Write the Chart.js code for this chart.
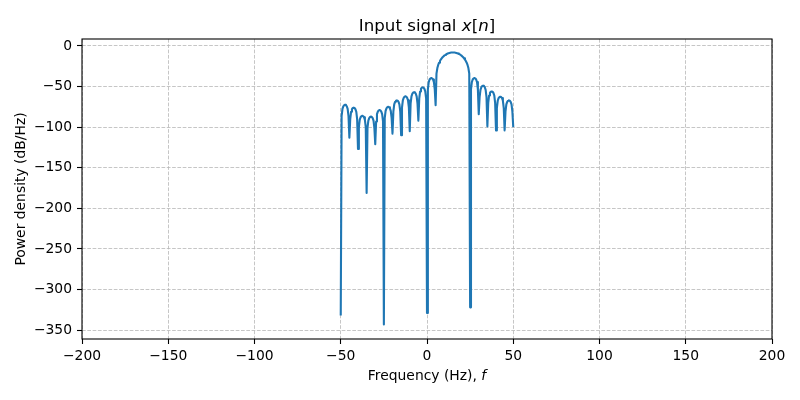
<!DOCTYPE html>
<html>
<head>
<meta charset="utf-8">
<script src="https://cdn.jsdelivr.net/npm/chart.js@4"></script>
<style>
  body { margin: 0; background: #fff; }
  canvas { display: block; }
</style>
</head>
<body>
<canvas id="psd" width="800" height="400"></canvas>
<script>
// frequency grid (Hz), one row per 5 Hz
const freq = [
  -50, -49.5, -49, -48.5, -48, -47.5, -47, -46.5, -46, -45.5,
  -45, -44.5, -44, -43.5, -43, -42.5, -42, -41.5, -41, -40.5,
  -40, -39.5, -39, -38.5, -38, -37.5, -37, -36.5, -36, -35.5,
  -35, -34.5, -34, -33.5, -33, -32.5, -32, -31.5, -31, -30.5,
  -30, -29.5, -29, -28.5, -28, -27.5, -27, -26.5, -26, -25.5,
  -25, -24.5, -24, -23.5, -23, -22.5, -22, -21.5, -21, -20.5,
  -20, -19.5, -19, -18.5, -18, -17.5, -17, -16.5, -16, -15.5,
  -15, -14.5, -14, -13.5, -13, -12.5, -12, -11.5, -11, -10.5,
  -10, -9.5, -9, -8.5, -8, -7.5, -7, -6.5, -6, -5.5,
  -5, -4.5, -4, -3.5, -3, -2.5, -2, -1.5, -1, -0.5,
  0, 0.5, 1, 1.5, 2, 2.5, 3, 3.5, 4, 4.5,
  5, 5.5, 6, 6.5, 7, 7.5, 8, 8.5, 9, 9.5,
  10, 10.5, 11, 11.5, 12, 12.5, 13, 13.5, 14, 14.5,
  15, 15.5, 16, 16.5, 17, 17.5, 18, 18.5, 19, 19.5,
  20, 20.5, 21, 21.5, 22, 22.5, 23, 23.5, 24, 24.5,
  25, 25.5, 26, 26.5, 27, 27.5, 28, 28.5, 29, 29.5,
  30, 30.5, 31, 31.5, 32, 32.5, 33, 33.5, 34, 34.5,
  35, 35.5, 36, 36.5, 37, 37.5, 38, 38.5, 39, 39.5,
  40, 40.5, 41, 41.5, 42, 42.5, 43, 43.5, 44, 44.5,
  45, 45.5, 46, 46.5, 47, 47.5, 48, 48.5, 49, 49.5,
  50
];

// power density (dB/Hz)
const psd = [
  -332, -86.5, -77.5, -74.3, -72.9, -72.5, -72.9, -74.3, -77.5, -86.5,
  -113, -90, -81, -77.8, -76.4, -76, -76.4, -77.8, -81, -90,
  -127, -100, -91, -87.8, -86.4, -86, -86.4, -87.8, -91, -100,
  -181, -101, -92, -88.8, -87.4, -87, -87.4, -88.8, -92, -101,
  -121, -93, -84, -80.8, -79.4, -79, -79.4, -80.8, -84, -93,
  -343, -89, -80, -76.8, -75.4, -75, -75.4, -76.8, -80, -89,
  -108, -81, -72, -68.8, -67.4, -67, -67.4, -68.8, -72, -81,
  -110, -76, -67, -63.8, -62.4, -62, -62.4, -63.8, -67, -76,
  -105, -71, -62, -58.8, -57.4, -57, -57.4, -58.8, -62, -71,
  -92, -65, -56, -52.8, -51.4, -51, -51.4, -52.8, -56, -65,
  -329, -53.5, -44.5, -41.3, -39.9, -39.5, -39.9, -41.3, -44.5, -53.5,
  -73, -34, -27.2, -23.4, -20.6, -18.5, -16.7, -15.2, -13.9, -12.9,
  -11.9, -11.1, -10.4, -9.8, -9.3, -8.9, -8.6, -8.3, -8.1, -8.05,
  -8, -8.05, -8.1, -8.3, -8.6, -8.9, -9.3, -9.8, -10.4, -11.1,
  -11.9, -12.9, -13.9, -15.2, -16.7, -18.5, -20.6, -23.4, -27.2, -34,
  -322, -53.5, -44.5, -41.3, -39.9, -39.5, -39.9, -41.3, -44.5, -53.5,
  -84, -63, -54, -50.8, -49.4, -49, -49.4, -50.8, -54, -63,
  -99, -70, -61, -57.8, -56.4, -56, -56.4, -57.8, -61, -70,
  -104, -76.5, -67.5, -64.3, -62.9, -62.5, -62.9, -64.3, -67.5, -76.5,
  -104, -81, -72, -68.8, -67.4, -67, -67.4, -68.8, -72, -81,
  -100
];

const xTicks = [-200, -150, -100, -50, 0, 50, 100, 150, 200];
const yTicks = [0, -50, -100, -150, -200, -250, -300, -350];

const FONT = "'DejaVu Sans', sans-serif";
const minus = v => (v < 0 ? "\u2212" + Math.abs(v) : String(v));

// title, axis labels (with italic math bits) and the frame
const decorations = {
  id: "decorations",
  afterDraw(chart) {
    const { ctx, chartArea: a } = chart;
    const cx = (a.left + a.right) / 2;

    const drawParts = (parts, size, x, y) => {
      let w = 0;
      parts.forEach(p => {
        ctx.font = (p[1] ? "italic " : "") + size + "px " + FONT;
        w += ctx.measureText(p[0]).width;
      });
      let px = x - w / 2;
      parts.forEach(p => {
        ctx.font = (p[1] ? "italic " : "") + size + "px " + FONT;
        ctx.fillText(p[0], px, y);
        px += ctx.measureText(p[0]).width;
      });
    };

    ctx.save();
    ctx.fillStyle = "#000";
    ctx.textBaseline = "alphabetic";
    ctx.textAlign = "left";
    drawParts([["Input signal ", false], ["x", true], ["[", false], ["n", true], ["]", false]], 16.67, cx, 31);
    drawParts([["Frequency (Hz), ", false], ["f", true]], 13.89, cx, 380);

    ctx.translate(21, (a.top + a.bottom) / 2);
    ctx.rotate(-Math.PI / 2);
    ctx.textAlign = "center";
    ctx.textBaseline = "middle";
    ctx.font = "13.89px " + FONT;
    ctx.fillText("Power density (dB/Hz)", 0, 0);
    ctx.restore();

    ctx.save();
    ctx.strokeStyle = "#000";
    ctx.lineWidth = 1.1;
    ctx.strokeRect(a.left, a.top, a.right - a.left, a.bottom - a.top);
    ctx.restore();
  }
};

new Chart(document.getElementById("psd"), {
  type: "line",
  data: {
    datasets: [{
      data: freq.map((f, i) => ({ x: f, y: psd[i] })),
      borderColor: "#1f77b4",
      borderWidth: 2.1,
      borderJoinStyle: "round",
      pointRadius: 0,
      tension: 0,
      fill: false
    }]
  },
  options: {
    responsive: false,
    animation: false,
    layout: { padding: { left: 0, right: 28, top: 39, bottom: 0 } },
    plugins: { legend: { display: false }, tooltip: { enabled: false } },
    scales: {
      x: {
        type: "linear",
        min: -200,
        max: 200,
        afterBuildTicks: s => { s.ticks = xTicks.map(v => ({ value: v })); },
        afterFit: s => { s.height = 61; },
        ticks: { callback: minus, font: { family: FONT, size: 13.89 }, color: "#000", padding: 4, maxRotation: 0 },
        grid: { color: "#b8b8b8", lineWidth: 0.8, tickColor: "#000", tickWidth: 1.1, tickLength: 5 },
        border: { display: false, dash: [3.7, 1.6] }
      },
      y: {
        min: -361,
        max: 8.6,
        afterBuildTicks: s => { s.ticks = yTicks.map(v => ({ value: v })); },
        afterFit: s => { s.width = 82; },
        ticks: { callback: minus, font: { family: FONT, size: 13.89 }, color: "#000", padding: 5 },
        grid: { color: "#b8b8b8", lineWidth: 0.8, tickColor: "#000", tickWidth: 1.1, tickLength: 5 },
        border: { display: false, dash: [3.7, 1.6] }
      }
    }
  },
  plugins: [decorations]
});
</script>
</body>
</html>
